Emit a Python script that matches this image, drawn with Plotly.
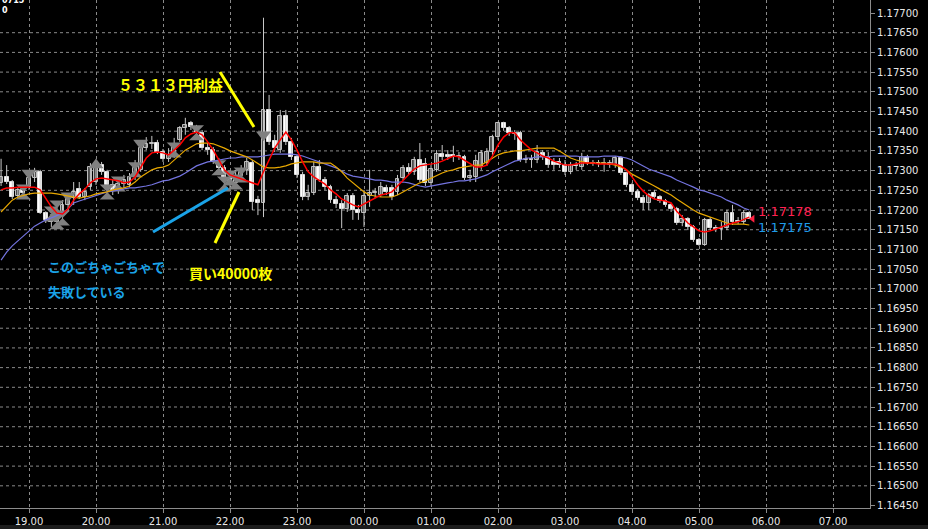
import plotly.graph_objects as go
import pandas as pd

# ---------------- data (EURUSD 5-minute bars) ----------------
start_time = "2020-07-14 18:35"
n_bars = 135
times = pd.date_range(start_time, periods=n_bars, freq="5min")

open_ = [
    1.17269, 1.17284, 1.17271, 1.17236, 1.17251, 1.17258, 1.17281, 1.17297, 1.17192, 1.17175,
    1.17170, 1.17187, 1.17213, 1.17230, 1.17253, 1.17233, 1.17258, 1.17271, 1.17314, 1.17297,
    1.17264, 1.17251, 1.17266, 1.17264, 1.17284, 1.17302, 1.17357, 1.17368, 1.17370, 1.17347,
    1.17330, 1.17340, 1.17378, 1.17408, 1.17421, 1.17411, 1.17396, 1.17357, 1.17352, 1.17322,
    1.17307, 1.17281, 1.17269, 1.17286, 1.17302, 1.17319, 1.17225, 1.17218, 1.17454, 1.17375,
    1.17352, 1.17439, 1.17373, 1.17335, 1.17289, 1.17233, 1.17243, 1.17309, 1.17276, 1.17258,
    1.17225, 1.17215, 1.17203, 1.17236, 1.17200, 1.17192, 1.17236, 1.17243, 1.17238, 1.17256,
    1.17256, 1.17246, 1.17281, 1.17307, 1.17297, 1.17327, 1.17317, 1.17269, 1.17302, 1.17342,
    1.17340, 1.17340, 1.17335, 1.17335, 1.17281, 1.17284, 1.17309, 1.17319, 1.17347, 1.17385,
    1.17421, 1.17408, 1.17396, 1.17396, 1.17327, 1.17330, 1.17327, 1.17345, 1.17335, 1.17322,
    1.17322, 1.17314, 1.17297, 1.17314, 1.17309, 1.17335, 1.17319, 1.17319, 1.17317, 1.17314,
    1.17314, 1.17332, 1.17294, 1.17264, 1.17246, 1.17230, 1.17218, 1.17243, 1.17233, 1.17223,
    1.17213, 1.17203, 1.17167, 1.17177, 1.17157, 1.17124, 1.17111, 1.17175, 1.17154, 1.17152,
    1.17154, 1.17192, 1.17172, 1.17170, 1.17192]

high = [
    1.17330, 1.17314, 1.17276, 1.17256, 1.17261, 1.17297, 1.17307, 1.17302, 1.17197, 1.17187,
    1.17205, 1.17225, 1.17238, 1.17271, 1.17271, 1.17256, 1.17319, 1.17319, 1.17322, 1.17302,
    1.17276, 1.17281, 1.17289, 1.17294, 1.17327, 1.17365, 1.17385, 1.17388, 1.17378, 1.17355,
    1.17357, 1.17383, 1.17413, 1.17434, 1.17426, 1.17416, 1.17403, 1.17370, 1.17360, 1.17332,
    1.17314, 1.17297, 1.17302, 1.17314, 1.17332, 1.17327, 1.17236, 1.17688, 1.17492, 1.17391,
    1.17454, 1.17454, 1.17383, 1.17340, 1.17297, 1.17264, 1.17322, 1.17327, 1.17284, 1.17264,
    1.17236, 1.17225, 1.17243, 1.17243, 1.17213, 1.17251, 1.17302, 1.17256, 1.17271, 1.17264,
    1.17264, 1.17289, 1.17314, 1.17319, 1.17335, 1.17370, 1.17332, 1.17314, 1.17352, 1.17365,
    1.17352, 1.17363, 1.17347, 1.17340, 1.17302, 1.17340, 1.17352, 1.17357, 1.17391, 1.17424,
    1.17424, 1.17413, 1.17403, 1.17401, 1.17340, 1.17340, 1.17365, 1.17352, 1.17347, 1.17332,
    1.17332, 1.17327, 1.17322, 1.17322, 1.17345, 1.17340, 1.17327, 1.17327, 1.17332, 1.17327,
    1.17337, 1.17337, 1.17297, 1.17269, 1.17253, 1.17238, 1.17243, 1.17251, 1.17238, 1.17228,
    1.17218, 1.17208, 1.17187, 1.17182, 1.17162, 1.17129, 1.17180, 1.17182, 1.17162, 1.17170,
    1.17200, 1.17213, 1.17182, 1.17200, 1.17197]

low = [
    1.17261, 1.17266, 1.17228, 1.17230, 1.17233, 1.17251, 1.17271, 1.17190, 1.17167, 1.17157,
    1.17159, 1.17170, 1.17195, 1.17213, 1.17228, 1.17225, 1.17251, 1.17264, 1.17289, 1.17258,
    1.17238, 1.17241, 1.17256, 1.17258, 1.17276, 1.17297, 1.17352, 1.17355, 1.17342, 1.17322,
    1.17322, 1.17332, 1.17373, 1.17391, 1.17403, 1.17383, 1.17352, 1.17340, 1.17317, 1.17297,
    1.17264, 1.17251, 1.17256, 1.17271, 1.17289, 1.17200, 1.17187, 1.17182, 1.17365, 1.17347,
    1.17345, 1.17365, 1.17327, 1.17281, 1.17225, 1.17225, 1.17238, 1.17271, 1.17251, 1.17218,
    1.17205, 1.17154, 1.17195, 1.17175, 1.17175, 1.17157, 1.17208, 1.17230, 1.17233, 1.17238,
    1.17225, 1.17238, 1.17276, 1.17289, 1.17289, 1.17271, 1.17261, 1.17261, 1.17297, 1.17327,
    1.17327, 1.17322, 1.17327, 1.17276, 1.17271, 1.17271, 1.17302, 1.17312, 1.17340, 1.17378,
    1.17401, 1.17388, 1.17378, 1.17322, 1.17319, 1.17307, 1.17319, 1.17327, 1.17307, 1.17302,
    1.17307, 1.17289, 1.17291, 1.17302, 1.17302, 1.17314, 1.17312, 1.17309, 1.17297, 1.17307,
    1.17307, 1.17289, 1.17258, 1.17238, 1.17225, 1.17200, 1.17200, 1.17228, 1.17218, 1.17208,
    1.17195, 1.17162, 1.17159, 1.17149, 1.17119, 1.17109, 1.17109, 1.17149, 1.17144, 1.17124,
    1.17149, 1.17162, 1.17164, 1.17164, 1.17177]

close = [
    1.17284, 1.17271, 1.17233, 1.17251, 1.17243, 1.17281, 1.17297, 1.17192, 1.17175, 1.17170,
    1.17187, 1.17213, 1.17230, 1.17246, 1.17233, 1.17246, 1.17309, 1.17307, 1.17297, 1.17264,
    1.17251, 1.17266, 1.17276, 1.17284, 1.17307, 1.17357, 1.17368, 1.17370, 1.17347, 1.17330,
    1.17340, 1.17360, 1.17408, 1.17416, 1.17411, 1.17396, 1.17357, 1.17352, 1.17322, 1.17307,
    1.17281, 1.17269, 1.17286, 1.17302, 1.17322, 1.17220, 1.17218, 1.17454, 1.17373, 1.17357,
    1.17439, 1.17373, 1.17335, 1.17289, 1.17233, 1.17243, 1.17309, 1.17276, 1.17258, 1.17225,
    1.17215, 1.17203, 1.17236, 1.17200, 1.17192, 1.17236, 1.17243, 1.17246, 1.17258, 1.17246,
    1.17233, 1.17279, 1.17307, 1.17297, 1.17327, 1.17276, 1.17269, 1.17304, 1.17342, 1.17335,
    1.17335, 1.17335, 1.17337, 1.17281, 1.17286, 1.17324, 1.17345, 1.17347, 1.17385, 1.17421,
    1.17408, 1.17396, 1.17393, 1.17327, 1.17330, 1.17327, 1.17347, 1.17335, 1.17314, 1.17314,
    1.17314, 1.17297, 1.17314, 1.17312, 1.17335, 1.17319, 1.17317, 1.17317, 1.17319, 1.17319,
    1.17332, 1.17294, 1.17264, 1.17246, 1.17230, 1.17218, 1.17238, 1.17233, 1.17223, 1.17213,
    1.17203, 1.17167, 1.17177, 1.17157, 1.17124, 1.17111, 1.17175, 1.17154, 1.17152, 1.17154,
    1.17192, 1.17170, 1.17170, 1.17192, 1.17178]

ma_fast = [
    1.17251, 1.17256, 1.17256, 1.17258, 1.17258, 1.17258, 1.17258, 1.17251, 1.17230, 1.17208,
    1.17192, 1.17190, 1.17203, 1.17225, 1.17241, 1.17253, 1.17269, 1.17279, 1.17281, 1.17279,
    1.17276, 1.17274, 1.17269, 1.17271, 1.17284, 1.17307, 1.17332, 1.17345, 1.17347, 1.17345,
    1.17340, 1.17352, 1.17365, 1.17383, 1.17393, 1.17398, 1.17391, 1.17373, 1.17352, 1.17327,
    1.17302, 1.17289, 1.17284, 1.17281, 1.17276, 1.17269, 1.17264, 1.17297, 1.17327, 1.17357,
    1.17378, 1.17398, 1.17378, 1.17352, 1.17322, 1.17297, 1.17284, 1.17276, 1.17266, 1.17251,
    1.17241, 1.17228, 1.17220, 1.17213, 1.17208, 1.17215, 1.17223, 1.17230, 1.17238, 1.17241,
    1.17246, 1.17261, 1.17276, 1.17291, 1.17304, 1.17312, 1.17314, 1.17317, 1.17319, 1.17324,
    1.17330, 1.17337, 1.17335, 1.17327, 1.17317, 1.17309, 1.17309, 1.17314, 1.17337, 1.17365,
    1.17385, 1.17396, 1.17396, 1.17378, 1.17365, 1.17352, 1.17345, 1.17337, 1.17332, 1.17324,
    1.17319, 1.17314, 1.17314, 1.17317, 1.17319, 1.17319, 1.17319, 1.17317, 1.17317, 1.17317,
    1.17317, 1.17312, 1.17302, 1.17284, 1.17264, 1.17248, 1.17236, 1.17228, 1.17225, 1.17223,
    1.17218, 1.17197, 1.17182, 1.17167, 1.17157, 1.17147, 1.17144, 1.17147, 1.17152, 1.17157,
    1.17162, 1.17167, 1.17170, 1.17177, 1.17182]

ma_mid = [
    1.17195, 1.17210, 1.17225, 1.17233, 1.17238, 1.17241, 1.17243, 1.17243, 1.17243, 1.17243,
    1.17241, 1.17238, 1.17236, 1.17233, 1.17230, 1.17233, 1.17236, 1.17241, 1.17243, 1.17246,
    1.17251, 1.17253, 1.17256, 1.17261, 1.17271, 1.17284, 1.17294, 1.17302, 1.17307, 1.17309,
    1.17314, 1.17327, 1.17340, 1.17352, 1.17360, 1.17368, 1.17370, 1.17370, 1.17368, 1.17363,
    1.17357, 1.17350, 1.17345, 1.17340, 1.17335, 1.17327, 1.17317, 1.17309, 1.17307, 1.17307,
    1.17309, 1.17312, 1.17317, 1.17319, 1.17322, 1.17322, 1.17322, 1.17319, 1.17319, 1.17319,
    1.17309, 1.17297, 1.17281, 1.17269, 1.17256, 1.17246, 1.17238, 1.17236, 1.17233, 1.17233,
    1.17233, 1.17238, 1.17246, 1.17253, 1.17261, 1.17269, 1.17274, 1.17281, 1.17286, 1.17294,
    1.17299, 1.17302, 1.17307, 1.17309, 1.17312, 1.17314, 1.17314, 1.17322, 1.17332, 1.17340,
    1.17345, 1.17347, 1.17350, 1.17350, 1.17352, 1.17355, 1.17357, 1.17357, 1.17357, 1.17357,
    1.17350, 1.17340, 1.17332, 1.17327, 1.17322, 1.17319, 1.17319, 1.17319, 1.17319, 1.17317,
    1.17314, 1.17309, 1.17302, 1.17291, 1.17284, 1.17276, 1.17269, 1.17261, 1.17253, 1.17246,
    1.17238, 1.17228, 1.17218, 1.17208, 1.17200, 1.17192, 1.17187, 1.17182, 1.17177, 1.17172,
    1.17167, 1.17164, 1.17164, 1.17164, 1.17162]

ma_slow = [
    1.17073, 1.17093, 1.17109, 1.17121, 1.17134, 1.17147, 1.17159, 1.17167, 1.17175, 1.17180,
    1.17187, 1.17192, 1.17203, 1.17218, 1.17223, 1.17228, 1.17233, 1.17238, 1.17243, 1.17246,
    1.17248, 1.17251, 1.17253, 1.17256, 1.17256, 1.17258, 1.17261, 1.17264, 1.17269, 1.17274,
    1.17276, 1.17281, 1.17286, 1.17294, 1.17304, 1.17312, 1.17317, 1.17322, 1.17324, 1.17327,
    1.17330, 1.17332, 1.17332, 1.17335, 1.17335, 1.17335, 1.17335, 1.17337, 1.17340, 1.17342,
    1.17342, 1.17342, 1.17342, 1.17340, 1.17337, 1.17332, 1.17327, 1.17322, 1.17317, 1.17312,
    1.17307, 1.17299, 1.17291, 1.17286, 1.17284, 1.17281, 1.17279, 1.17276, 1.17276, 1.17274,
    1.17271, 1.17271, 1.17271, 1.17269, 1.17264, 1.17261, 1.17258, 1.17261, 1.17264, 1.17266,
    1.17269, 1.17271, 1.17274, 1.17274, 1.17276, 1.17279, 1.17284, 1.17289, 1.17297, 1.17304,
    1.17312, 1.17319, 1.17324, 1.17327, 1.17332, 1.17332, 1.17335, 1.17335, 1.17335, 1.17337,
    1.17337, 1.17337, 1.17337, 1.17337, 1.17335, 1.17335, 1.17335, 1.17335, 1.17337, 1.17337,
    1.17337, 1.17335, 1.17332, 1.17327, 1.17319, 1.17312, 1.17304, 1.17299, 1.17294, 1.17289,
    1.17284, 1.17276, 1.17269, 1.17264, 1.17258, 1.17251, 1.17248, 1.17243, 1.17238, 1.17233,
    1.17225, 1.17220, 1.17213, 1.17205, 1.17200]

# trade arrows (bar index, price)
hourglass_bar = [4, 9, 10, 11, 10, 19, 21, 24, 31, 35, 39, 40, 41, 42, 43]
hourglass_price = [1.17246, 1.17190, 1.17205, 1.17180, 1.17170, 1.17246, 1.17266, 1.17302,
                   1.17352, 1.17396, 1.17307, 1.17266, 1.17281, 1.17271, 1.17289]
sell_bar = [5, 12, 25, 47]
sell_price = [1.17294, 1.17236, 1.17370, 1.17391]
buy_bar = [17]
buy_price = [1.17314]

bid_label = "1.17178"
ask_label = "1.17175"

price_ticks = [1.17700, 1.17650, 1.17600, 1.17550, 1.17500, 1.17450, 1.17400, 1.17350,
               1.17300, 1.17250, 1.17200, 1.17150, 1.17100, 1.17050, 1.17000, 1.16950,
               1.16900, 1.16850, 1.16800, 1.16750, 1.16700, 1.16650, 1.16600, 1.16550,
               1.16500, 1.16450]
price_labels = ["%.5f" % v for v in price_ticks]

# ---------------- styling ----------------
PW, PH = 870.0, 508.0          # plot area in pixels
def px(x, y):
    return x / PW, 1 - y / PH

GRID = "#8a8a8a"
AXIS = "#8c8c8c"
TXT = "#e8e8e8"
YEL = "#ffff00"
BLU = "#1aa3e8"

fig = go.Figure()

# wicks
wx, wy = [], []
for t, h, l in zip(times, high, low):
    wx += [t, t, None]
    wy += [l, h, None]
fig.add_trace(go.Scatter(x=wx, y=wy, mode="lines", line=dict(color="#c8c8c8", width=1),
                         hoverinfo="skip"))

MIN_BODY = 0.00003
bull_x, bull_b, bull_h, bear_x, bear_b, bear_h = [], [], [], [], [], []
for t, o, c in zip(times, open_, close):
    b = min(o, c)
    h = max(abs(c - o), MIN_BODY)
    if c > o:
        bull_x.append(t); bull_b.append(b); bull_h.append(h)
    else:
        bear_x.append(t); bear_b.append(b); bear_h.append(h)

fig.add_trace(go.Bar(x=bull_x, y=bull_h, base=bull_b, width=210000,
                     marker=dict(color="#4a4a4a", line=dict(color="#bdbdbd", width=1))))
fig.add_trace(go.Bar(x=bear_x, y=bear_h, base=bear_b, width=210000,
                     marker=dict(color="#ffffff", line=dict(color="#e0e0e0", width=1))))

# trade arrows
fig.add_trace(go.Scatter(x=[times[i] for i in hourglass_bar], y=hourglass_price, mode="markers",
                         marker=dict(symbol="hourglass", size=15, color="#808080")))
fig.add_trace(go.Scatter(x=[times[i] for i in sell_bar], y=sell_price, mode="markers",
                         marker=dict(symbol="triangle-down", size=13, color="#808080")))
fig.add_trace(go.Scatter(x=[times[i] for i in buy_bar], y=buy_price, mode="markers",
                         marker=dict(symbol="triangle-up", size=13, color="#808080")))

# moving averages
fig.add_trace(go.Scatter(x=times, y=ma_slow, mode="lines", line=dict(color="#7474e0", width=1.2)))
fig.add_trace(go.Scatter(x=times, y=ma_mid, mode="lines", line=dict(color="#e8a800", width=1.2)))
fig.add_trace(go.Scatter(x=times, y=ma_fast, mode="lines", line=dict(color="#ff0000", width=1.5)))

# current price marker
fig.add_trace(go.Scatter(x=[times[-1] + pd.Timedelta(minutes=3)], y=[close[-1]], mode="markers",
                         marker=dict(symbol="triangle-left", size=7, color="#ff2040")))

shapes = []
for v in price_ticks[1:-1]:
    shapes.append(dict(type="line", xref="paper", x0=0, x1=1, yref="y", y0=v, y1=v,
                       line=dict(color=GRID, width=1, dash="3px,3px"), layer="below"))

def seg(p0, p1, color, w):
    x0, y0 = px(*p0)
    x1, y1 = px(*p1)
    return dict(type="line", xref="paper", yref="paper", x0=x0, y0=y0, x1=x1, y1=y1,
                line=dict(color=color, width=w))

shapes.append(seg((220, 72), (254, 127), YEL, 3))
shapes.append(seg((215, 243), (239, 192), YEL, 3))
shapes.append(seg((153, 232), (228, 188), BLU, 3))
# bottom status strip
shapes.append(dict(type="rect", xref="paper", yref="paper", x0=0, x1=928 / PW,
                   y0=-21 / PH, y1=-17 / PH, fillcolor="#1c1c1c", line=dict(width=0)))

def note(text, x, y, color, size, bold=False, family="Noto Sans CJK JP"):
    ax, ay = px(x, y)
    return dict(text=("<b>%s</b>" % text) if bold else text, x=ax, y=ay, xref="paper",
                yref="paper", xanchor="left", yanchor="middle", showarrow=False,
                font=dict(family=family, size=size, color=color))

annotations = [
    note("５３１３円利益", 116, 84, YEL, 15, bold=True),
    note("買い40000枚", 187, 273, YEL, 14, bold=True),
    note("このごちゃごちゃで", 46, 266, BLU, 13, bold=True),
    note("失敗している", 46, 291, BLU, 13, bold=True),
    note(bid_label, 756, 212, "#ff2050", 13, family="DejaVu Sans"),
    note(ask_label, 756, 227, "#1e9ae8", 13, family="DejaVu Sans"),
    note("<b>0715</b>", 0, 1, "#ffffff", 8, family="DejaVu Sans"),
    note("<b>0</b>", 0, 11, "#ffffff", 8, family="DejaVu Sans"),
]

fig.update_layout(
    width=928, height=529,
    margin=dict(l=0, r=58, t=0, b=21),
    paper_bgcolor="#000000", plot_bgcolor="#000000",
    showlegend=False, barmode="overlay", bargap=0,
    shapes=shapes, annotations=annotations,
    xaxis=dict(type="date", range=["2020-07-14 18:34:02", "2020-07-15 07:33:06"],
               tickformat="%H.%M", dtick=3600000, tick0="2020-07-14 19:00",
               showgrid=True, gridcolor=GRID, gridwidth=1, griddash="3px,3px",
               showline=True, linecolor=AXIS, linewidth=1, zeroline=False,
               ticks="outside", ticklen=4, tickcolor=AXIS,
               tickfont=dict(family="DejaVu Sans", size=10, color=TXT)),
    yaxis=dict(side="right", range=[1.164437, 1.177330], tickvals=price_ticks,
               ticktext=price_labels, showgrid=False, zeroline=False,
               showline=True, linecolor=AXIS, linewidth=1,
               ticks="outside", ticklen=4, tickcolor=AXIS,
               tickfont=dict(family="DejaVu Sans", size=10, color=TXT)),
)

fig.write_html("out.html", config={"displayModeBar": False},
               post_script="document.body.style.margin='0';document.body.style.background='#000';")
